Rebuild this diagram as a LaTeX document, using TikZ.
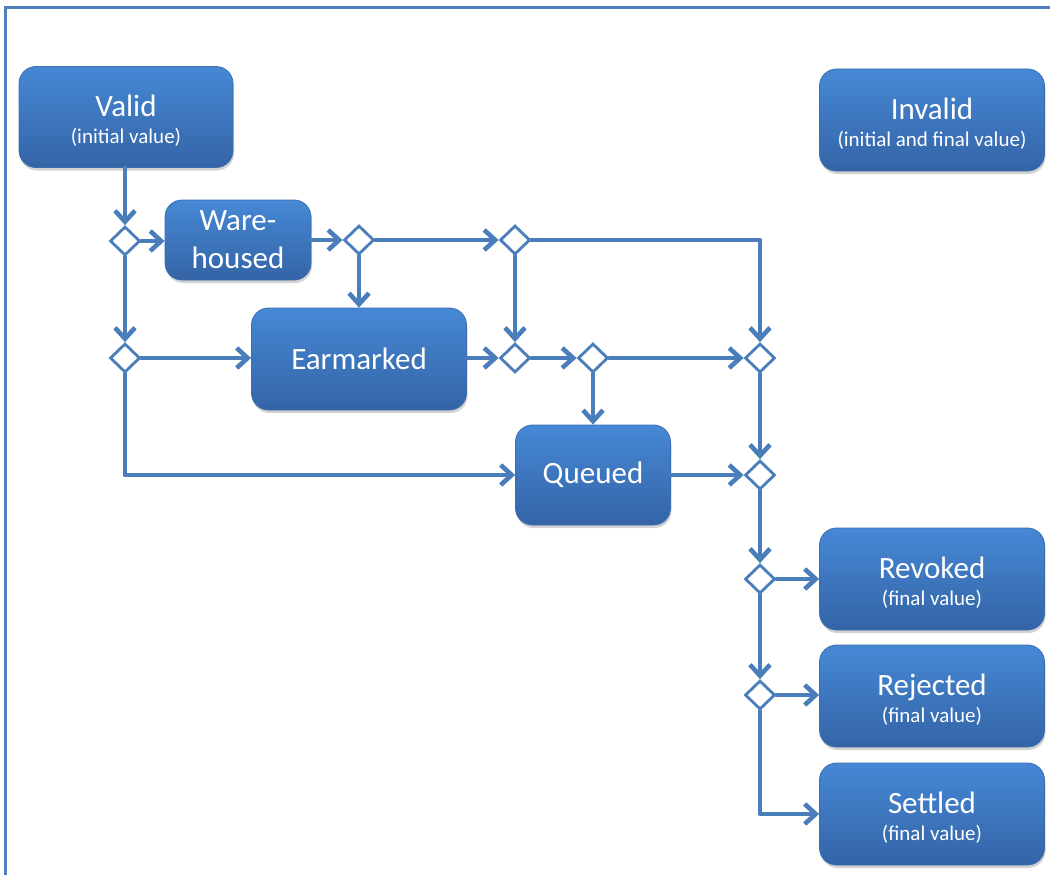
\documentclass[tikz,border=0pt]{standalone}
\usepackage{fontspec}
\setmainfont{Carlito}
\usetikzlibrary{shapes.geometric,arrows.meta,shadows}
\definecolor{ln}{HTML}{4A7EBB}
\definecolor{btop}{HTML}{4688D5}
\definecolor{bbot}{HTML}{3464A6}
\definecolor{bedge}{HTML}{3C6DB0}
\definecolor{frame}{HTML}{4F7FBD}
\newcommand{\subt}[1]{{\fontsize{21}{24}\selectfont #1}}
\newcommand{\tstrut}{\rule{0pt}{28pt}}
\begin{document}
\begin{tikzpicture}[x=1pt,y=-1pt,
  state/.style={rectangle, rounded corners=17pt, top color=btop, bottom color=bbot,
    draw=bedge, line width=0.8pt, text=white, align=center, inner sep=0pt,
    font=\fontsize{31}{35}\selectfont,
    drop shadow={opacity=0.35,shadow xshift=1pt,shadow yshift=-3pt}},
  big/.style={minimum width=225pt, minimum height=102pt},
  gate/.style={diamond, draw=ln, fill=white, line width=2.8pt,
    minimum width=30pt, minimum height=29pt, inner sep=0pt},
  conn/.style={draw=ln, line width=4.6pt, line cap=round, line join=round,
    -{Straight Barb[length=11pt,width=20pt]}},
]
\useasboundingbox (0,0) rectangle (1050,875);
\draw[frame, line width=3pt] (5,880) -- (5,8) -- (1060,8);

% states
\node[state, minimum width=214pt, minimum height=101pt] (valid) at (126,117)
  {\tstrut Valid\\[-8pt]\subt{(initial value)}};
\node[state, big] (invalid) at (932,120)
  {\tstrut Invalid\\[-8pt]\subt{(initial and final value)}};
\node[state, minimum width=146pt, minimum height=80pt] (ware) at (238,240)
  {Ware-\\[3pt]housed};
\node[state, minimum width=215pt, minimum height=102pt] (ear) at (359,359) {Earmarked};
\node[state, minimum width=155pt, minimum height=100pt] (queued) at (593,475) {Queued};
\node[state, big] (revoked) at (932,579)
  {\tstrut Revoked\\[-8pt]\subt{(final value)}};
\node[state, big] (rejected) at (932,696)
  {\tstrut Rejected\\[-8pt]\subt{(final value)}};
\node[state, big] (settled) at (932,814)
  {\tstrut Settled\\[-8pt]\subt{(final value)}};

% gates
\node[gate] (d1) at (125,241) {};
\node[gate] (d2) at (125,358) {};
\node[gate] (d3) at (359,240) {};
\node[gate] (d4) at (515,240) {};
\node[gate] (d5) at (515,358) {};
\node[gate] (d6) at (593,358) {};
\node[gate] (d7) at (760,358) {};
\node[gate] (d8) at (760,475) {};
\node[gate] (d9) at (760,579) {};
\node[gate] (d10) at (760,695) {};

% connectors
\draw[conn] (d1 |- valid.south) -- (d1);
\draw[conn] (d1) -- (ware.west |- d1);
\draw[conn] (d1) -- (d2);
\draw[conn] (d2) -- (ear.west |- d2);
\draw[conn] (d2.south) |- (queued.west);
\draw[conn] (ware.east |- d3) -- (d3);
\draw[conn] (d3) -- (d4);
\draw[conn] (d3) -- (d3 |- ear.north);
\draw[conn] (d4) -- (d5);
\draw[conn] (d4.east) -| (d7.north);
\draw[conn] (ear.east |- d5) -- (d5);
\draw[conn] (d5) -- (d6);
\draw[conn] (d6) -- (d6 |- queued.north);
\draw[conn] (d6) -- (d7);
\draw[conn] (d7) -- (d8);
\draw[conn] (queued.east |- d8) -- (d8);
\draw[conn] (d8) -- (d9);
\draw[conn] (d9) -- (revoked.west |- d9);
\draw[conn] (d9) -- (d10);
\draw[conn] (d10) -- (rejected.west |- d10);
\draw[conn] (d10.south) |- (settled.west);
\end{tikzpicture}
\end{document}
